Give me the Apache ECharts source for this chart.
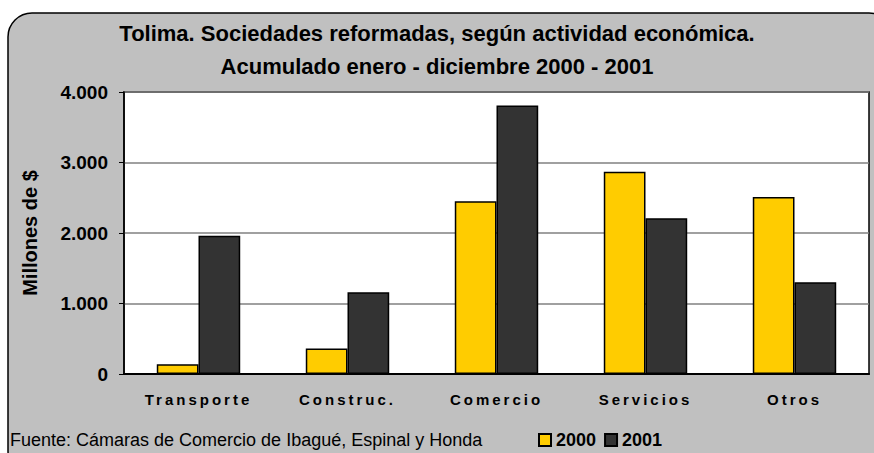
<!DOCTYPE html>
<html>
<head>
<meta charset="utf-8">
<script src="https://cdn.jsdelivr.net/npm/echarts@6/dist/echarts.min.js"></script>
<style>
  html, body { margin: 0; padding: 0; background: #fff; }
  #chart { width: 874px; height: 453px; }
</style>
</head>
<body>
<div id="chart"></div>
<script>
var categories = ['Transporte', 'Construc.', 'Comercio', 'Servicios', 'Otros'];
var serie2000 = [140, 360, 2450, 2870, 2510];
var serie2001 = [1960, 1160, 3810, 2210, 1300];
var seriesNames = ['2000', '2001'];

var fontBase = '"Liberation Sans", Arial, sans-serif';

function miles(v) {
  return String(v).replace(/\B(?=(\d{3})+(?!\d))/g, '.');
}

var myChart = echarts.init(document.getElementById('chart'), null, { renderer: 'svg' });

var option = {
  animation: false,
  textStyle: { fontFamily: fontBase },
  graphic: [
    {
      type: 'rect',
      z: -10,
      shape: { x: 8, y: 13, width: 885, height: 462, r: 24 },
      style: { fill: '#c0c0c0', stroke: '#000', lineWidth: 1.5 }
    },
    {
      type: 'text',
      left: 10,
      top: 431,
      style: {
        text: 'Fuente: Cámaras de Comercio de Ibagué, Espinal y Honda',
        font: '18px ' + fontBase,
        fill: '#000'
      }
    }
  ],
  title: {
    text: 'Tolima. Sociedades reformadas, según actividad económica.\nAcumulado enero - diciembre 2000 - 2001',
    left: 'center',
    top: 17,
    padding: 0,
    textStyle: { fontSize: 22, fontWeight: 'bold', lineHeight: 33, color: '#000', fontFamily: fontBase }
  },
  legend: {
    data: seriesNames,
    left: 533,
    top: 426,
    itemWidth: 12,
    itemHeight: 12,
    itemGap: 8,
    icon: 'rect',
    textStyle: { fontSize: 18, fontWeight: 'bold', color: '#000', lineHeight: 18, padding: [0, 0, 0, 0] }
  },
  grid: {
    left: 124,
    right: 5,
    top: 92,
    bottom: 79,
    show: true,
    backgroundColor: '#fff',
    borderColor: '#000',
    borderWidth: 1.5
  },
  xAxis: {
    type: 'category',
    data: categories,
    axisLine: { lineStyle: { color: '#000', width: 2 } },
    axisTick: { length: 5, lineStyle: { color: '#000', width: 1 } },
    axisLabel: { margin: 18, fontSize: 15, fontWeight: 'bold', color: '#000' }
  },
  yAxis: {
    type: 'value',
    min: 0,
    max: 4000,
    interval: 1000,
    name: 'Millones de $',
    nameLocation: 'middle',
    nameGap: 84,
    nameTextStyle: { fontSize: 20, fontWeight: 'bold', color: '#000' },
    axisLine: { show: true, lineStyle: { color: '#000', width: 1.5 } },
    axisTick: { show: true, length: 5, lineStyle: { color: '#000' } },
    splitLine: { lineStyle: { color: '#808080', width: 1.5 } },
    axisLabel: { fontSize: 19, fontWeight: 'bold', color: '#000', margin: 16, formatter: miles }
  },
  series: [
    {
      name: '2000',
      type: 'bar',
      data: serie2000,
      barGap: '0%',
      barCategoryGap: '44%',
      itemStyle: { color: '#ffcc00', borderColor: '#000', borderWidth: 1.5 }
    },
    {
      name: '2001',
      type: 'bar',
      data: serie2001,
      itemStyle: { color: '#333333', borderColor: '#000', borderWidth: 1.5 }
    }
  ]
};

myChart.on('finished', function () {
  document.querySelectorAll('#chart text').forEach(function (t) {
    if (categories.indexOf(t.textContent) >= 0) {
      t.setAttribute('letter-spacing', '3');
    }
  });
});
myChart.setOption(option);
</script>
</body>
</html>
